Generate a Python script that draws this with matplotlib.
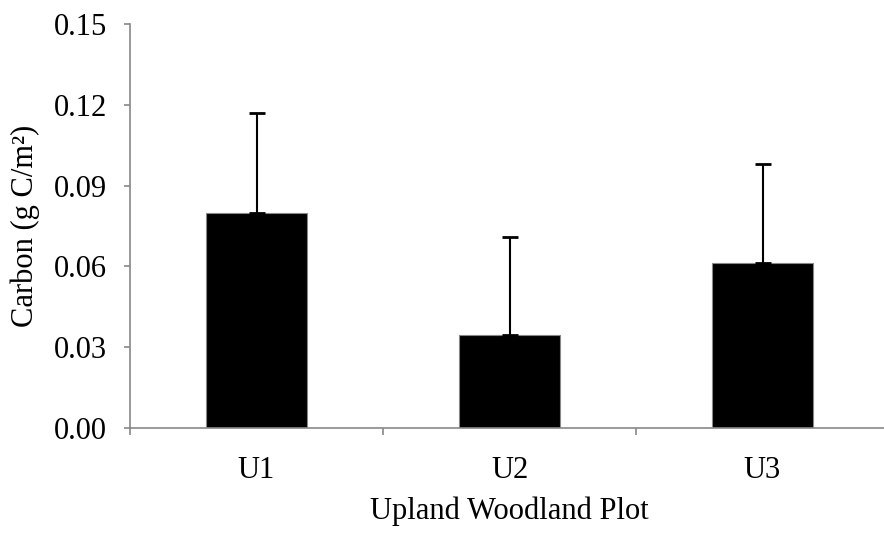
import matplotlib
matplotlib.use("Agg")
import matplotlib.pyplot as plt
import numpy as np

categories = ["U1", "U2", "U3"]
values = [0.080, 0.0346, 0.0613]
errors = [0.0368, 0.0365, 0.0366]
yticks = [0.00, 0.03, 0.06, 0.09, 0.12, 0.15]

plt.rcParams['font.family'] = ['Liberation Serif', 'DejaVu Serif']

fig = plt.figure(figsize=(8.84, 5.33), dpi=100)
L, B, T = 130/884, 1 - 428/533, 1 - 24/533
W = (889 - 130) / 884
ax = fig.add_axes([L, B, W, T - B])

x = np.arange(len(categories))
ax.bar(x, values, width=0.4, color='black', edgecolor='#888888', linewidth=0.8, zorder=2)
ax.errorbar(x, values, yerr=[np.zeros(len(errors)), errors], fmt='none',
            ecolor='black', elinewidth=1.5, capsize=5.5, capthick=2.0, zorder=3)

ax.set_xlim(-0.5, len(categories) - 0.5)
ax.set_ylim(0, 0.15)
ax.set_yticks(yticks)
ax.set_yticklabels([f"{v:.2f}" for v in yticks])

ax.set_xticks(x)
ax.set_xticklabels(categories)
ax.set_xticks(np.arange(len(categories) + 1) - 0.5, minor=True)
ax.tick_params(axis='x', which='major', length=0, pad=20, labelsize=22)
ax.tick_params(axis='x', which='minor', length=5, width=1.2, color='#888888', direction='out')
ax.tick_params(axis='y', which='major', length=4.5, width=1.2, color='#888888', direction='out', pad=12, labelsize=22)

for s in ['top', 'right']:
    ax.spines[s].set_visible(False)
for s in ['left', 'bottom']:
    ax.spines[s].set_color('#888888')
    ax.spines[s].set_linewidth(1.2)

fig.text(25/884, 1 - 226/533, "Carbon (g C/m²)", rotation=90, ha='center', va='center', fontsize=22)
fig.text(509/884, 1 - 511/533, "Upland Woodland Plot", ha='center', va='center', fontsize=22)

fig.savefig("out.png", dpi=100)
